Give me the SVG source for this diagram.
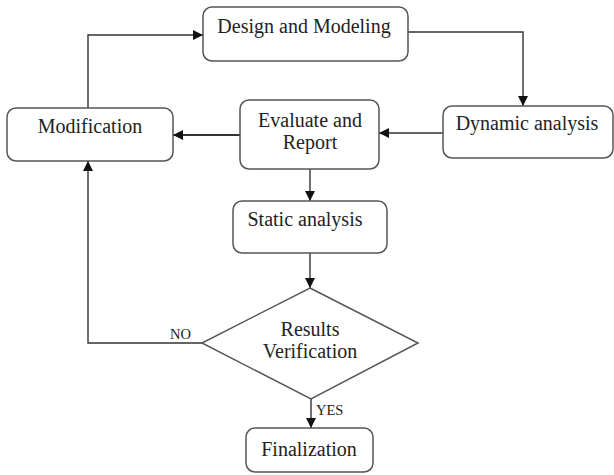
<svg xmlns="http://www.w3.org/2000/svg" width="614" height="475" viewBox="0 0 614 475">
<style>
.box{fill:#fff;stroke:#555;stroke-width:1.5}
.t{font-family:'Liberation Serif','DejaVu Serif','Times New Roman',serif;font-size:20px;fill:#222;text-anchor:middle}
.s{font-family:'Liberation Serif','DejaVu Serif','Times New Roman',serif;font-size:14.5px;fill:#222}
.c{fill:none;stroke:#333;stroke-width:1.4}
</style>
<defs>
<marker id="ah" viewBox="0 0 10 10" refX="10" refY="5" markerWidth="10" markerHeight="10" markerUnits="userSpaceOnUse" orient="auto">
<path d="M0,0 L10,5 L0,10 z" fill="#111"/>
</marker>
</defs>
<rect width="614" height="475" fill="#fff"/>
<g id="connectors">
<path class="c" d="M88,108 V35 H203" marker-end="url(#ah)"/>
<path class="c" d="M408,32 H523 V106" marker-end="url(#ah)"/>
<path class="c" d="M443,133 H379" marker-end="url(#ah)"/>
<path class="c" style="stroke-width:2" d="M240,135 H173" marker-end="url(#ah)"/>
<path class="c" d="M310,169 V201" marker-end="url(#ah)"/>
<path class="c" d="M310,253 V288" marker-end="url(#ah)"/>
<path class="c" d="M202,343 H88 V161" marker-end="url(#ah)"/>
<path class="c" d="M311,399 V428" marker-end="url(#ah)"/>
<text class="s" font-family="Liberation Serif, serif" x="170" y="339">NO</text>
<text class="s" font-family="Liberation Serif, serif" x="316" y="415">YES</text>
</g>
<g id="design">
<rect class="box" x="203" y="7" width="205" height="54" rx="9"/>
<text class="t" font-family="Liberation Serif, serif" x="304" y="33">Design and Modeling</text>
</g>
<g id="dynamic">
<rect class="box" x="443" y="106" width="170" height="52" rx="9"/>
<text class="t" font-family="Liberation Serif, serif" x="527" y="130">Dynamic analysis</text>
</g>
<g id="evaluate">
<rect class="box" x="240" y="100" width="139" height="69" rx="9"/>
<text class="t" font-family="Liberation Serif, serif" x="310" y="127">Evaluate and</text>
<text class="t" font-family="Liberation Serif, serif" x="310" y="149">Report</text>
</g>
<g id="modification">
<rect class="box" x="7" y="108" width="166" height="53" rx="9"/>
<text class="t" font-family="Liberation Serif, serif" x="90" y="133">Modification</text>
</g>
<g id="static">
<rect class="box" x="233" y="201" width="154" height="52" rx="9"/>
<text class="t" font-family="Liberation Serif, serif" x="305" y="226">Static analysis</text>
</g>
<g id="verification">
<path class="box" d="M310,288 L418,343 L311,399 L202,343 Z"/>
<text class="t" font-family="Liberation Serif, serif" x="310" y="336">Results</text>
<text class="t" font-family="Liberation Serif, serif" x="310" y="358">Verification</text>
</g>
<g id="finalization">
<rect class="box" x="246" y="428" width="127" height="44" rx="9"/>
<text class="t" font-family="Liberation Serif, serif" x="309" y="456">Finalization</text>
</g>
</svg>
